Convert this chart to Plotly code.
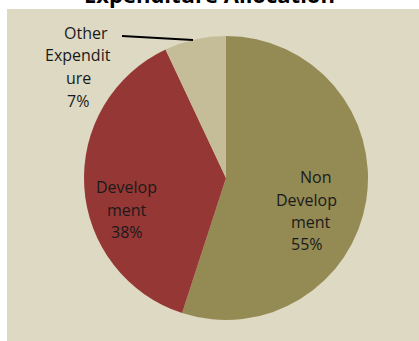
import plotly.graph_objects as go

# ---- data ----
categories = ["Non Development", "Development", "Other Expenditure"]
values = [55, 38, 7]
colors = ["#948A54", "#953735", "#C4BD97"]
# label lines as wrapped in the original chart
label_lines = [
    ["Non", "Develop", "ment"],
    ["Develop", "ment"],
    ["Other", "Expendit", "ure"],
]
title_text = "Expenditure Allocation"

W, H = 419, 341
ML, MR, MT, MB = 7, 0, 9, 0
PW, PH = W - ML - MR, H - MT - MB


def px(x):
    return (x - ML) / PW


def py(y):
    return (H - MB - y) / PH


fig = go.Figure(
    go.Pie(
        labels=categories,
        values=values,
        marker=dict(colors=colors, line=dict(width=0)),
        sort=False,
        direction="clockwise",
        rotation=0,
        textinfo="none",
        hoverinfo="label+percent",
        showlegend=False,
        domain=dict(x=[px(84), px(368)], y=[py(320), py(36)]),
    )
)

# background panel
fig.add_shape(type="rect", xref="paper", yref="paper", x0=0, x1=1, y0=0, y1=1,
              fillcolor="#DDD9C3", line=dict(width=0), layer="below")

# leader line for the small slice
fig.add_shape(type="line", xref="paper", yref="paper",
              x0=px(122), y0=py(36), x1=px(193), y1=py(40),
              line=dict(color="black", width=2))

# label anchor positions (pixel centres of the first line), line spacing
label_anchor = [(309, 177), (126, 187), (80, 33)]
line_dx = [[6, -3, 2, -2], [0, 1, 1], [6, -2, -2, -2]]
spacing = 22.5
total = sum(values)
font = dict(family="Open Sans", size=16, color="#1a1a1a")
for i, lines in enumerate(label_lines):
    pct = f"{round(values[i] / total * 100)}%"
    all_lines = lines + [pct]
    x0, y0 = label_anchor[i]
    for j, t in enumerate(all_lines):
        fig.add_annotation(xref="paper", yref="paper",
                           x=px(x0 + line_dx[i][j]), y=py(y0 + j * spacing),
                           text=t, showarrow=False, font=font,
                           xanchor="center", yanchor="middle")

fig.add_annotation(xref="paper", yref="paper", x=px(209), y=py(-5.5),
                   text=f"<b>{title_text}</b>", showarrow=False,
                   font=dict(family="Open Sans", size=22, color="black"),
                   xanchor="center", yanchor="middle")

fig.update_layout(
    width=W, height=H,
    margin=dict(l=ML, r=MR, t=MT, b=MB),
    paper_bgcolor="white",
)

fig.write_html("out.html")
